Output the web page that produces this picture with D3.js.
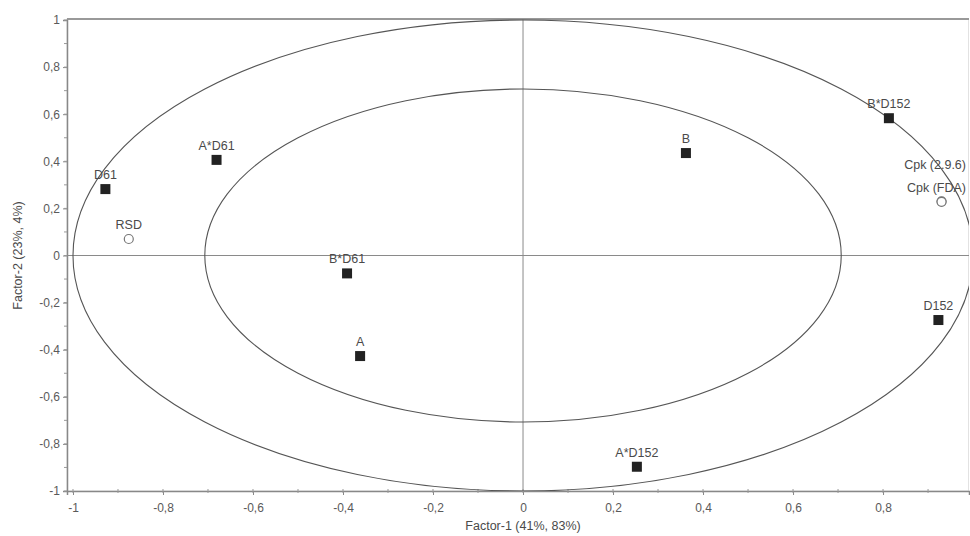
<!DOCTYPE html>
<html>
<head>
<meta charset="utf-8">
<script src="https://cdn.jsdelivr.net/npm/d3@7"></script>
<style>
  body { margin: 0; background: #fff; }
  text { font-family: "Liberation Sans", Arial, sans-serif; }
</style>
</head>
<body>
<div class="loadings-plot"></div>
<script>
// loadings
const names   = ["D61", "A*D61", "RSD", "B*D61", "A", "A*D152", "B", "B*D152", "Cpk (2.9.6)", "Cpk (FDA)", "D152"];
const factor1 = [-0.928, -0.681, -0.876, -0.391, -0.362, 0.253, 0.362, 0.813, 0.930, 0.930, 0.923];
const factor2 = [0.282, 0.406, 0.070, -0.076, -0.427, -0.897, 0.435, 0.583, 0.230, 0.228, -0.274];
const kind    = ["x", "x", "y", "x", "x", "x", "x", "x", "y", "y", "x"];   // x = predictor, y = response
const majorTicks = [-1, -0.8, -0.6, -0.4, -0.2, 0, 0.2, 0.4, 0.6, 0.8];
const yMajorTicks = [-1, -0.8, -0.6, -0.4, -0.2, 0, 0.2, 0.4, 0.6, 0.8, 1];
const ellipseRadii = [1, Math.sqrt(0.5)];

const data = names.map((n, i) => ({name: n, f1: factor1[i], f2: factor2[i], kind: kind[i]}));

const W = 970, H = 536;
const margin = {top: 19, right: 1, bottom: 45, left: 67};

const svg = d3.select(".loadings-plot")
    .append("svg")
    .attr("width", W)
    .attr("height", H);

const xScale = d3.scaleLinear()
    .domain([-1.0133, 0.991])
    .range([margin.left, W - margin.right]);
const yScale = d3.scaleLinear()
    .domain([-1, 1])
    .range([H - margin.bottom, 20]);

// plain hyphen and decimal comma, like the original
const comma = d => String(Math.round(d * 10) / 10).replace(".", ",");

// frame
svg.append("rect")
    .attr("x", margin.left)
    .attr("y", margin.top)
    .attr("width", W - margin.right - margin.left - 0.5)
    .attr("height", H - margin.bottom - margin.top)
    .attr("fill", "none")
    .attr("stroke", "#e2e2e2");
svg.append("line")
    .attr("x1", margin.left).attr("x2", W - margin.right)
    .attr("y1", margin.top).attr("y2", margin.top)
    .attr("stroke", "#999").attr("stroke-width", 2);

// minor ticks
const minor = d3.range(-10, 10).map(i => i / 10);
const yMinor = d3.range(-10, 11).map(i => i / 10);

const xAxis = d3.axisBottom(xScale).tickValues(majorTicks).tickFormat(comma).tickSize(4).tickPadding(8);
const yAxis = d3.axisLeft(yScale).tickValues(yMajorTicks).tickFormat(comma).tickSize(4).tickPadding(3);

svg.append("g")
    .attr("class", "axis x-axis")
    .attr("transform", `translate(0, ${H - margin.bottom})`)
    .call(xAxis)
    .call(g => g.selectAll(".minor").data(minor).enter().append("line")
        .attr("x1", d => xScale(d)).attr("x2", d => xScale(d))
        .attr("y1", -2).attr("y2", 2).attr("stroke", "#999"));
svg.append("g")
    .attr("class", "axis y-axis")
    .attr("transform", `translate(${margin.left}, 0)`)
    .call(yAxis)
    .call(g => g.selectAll(".minor").data(yMinor).enter().append("line")
        .attr("y1", d => yScale(d)).attr("y2", d => yScale(d))
        .attr("x1", -3).attr("x2", 0).attr("stroke", "#999"));

svg.selectAll(".axis .domain").attr("stroke", "#888").attr("stroke-width", 1.5);
svg.selectAll(".axis .tick line").attr("stroke", "#888");
svg.selectAll(".axis text")
    .attr("fill", "#5a5a5a")
    .attr("font-size", 12)
    .style("font-family", "'Liberation Sans', Arial, sans-serif");

// clip for ellipses
svg.append("clipPath").attr("id", "plot-clip")
    .append("rect")
    .attr("x", margin.left).attr("y", margin.top)
    .attr("width", W - margin.right - margin.left)
    .attr("height", H - margin.bottom - margin.top);

const plot = svg.append("g").attr("clip-path", "url(#plot-clip)");

// zero lines
plot.append("line")
    .attr("x1", xScale(0)).attr("x2", xScale(0))
    .attr("y1", margin.top).attr("y2", H - margin.bottom)
    .attr("stroke", "#8a8a8a");
plot.append("line")
    .attr("x1", margin.left).attr("x2", W - margin.right)
    .attr("y1", yScale(0)).attr("y2", yScale(0))
    .attr("stroke", "#8a8a8a");

// correlation ellipses
plot.selectAll(".ellipse")
    .data(ellipseRadii)
    .enter()
    .append("ellipse")
    .attr("cx", xScale(0))
    .attr("cy", yScale(0))
    .attr("rx", r => xScale(r) - xScale(0))
    .attr("ry", r => yScale(0) - yScale(r))
    .attr("fill", "none")
    .attr("stroke", "#555")
    .attr("stroke-width", 1.1);

// markers
svg.selectAll(".pt-x")
    .data(data.filter(d => d.kind === "x"))
    .enter()
    .append("rect")
    .attr("x", d => xScale(d.f1) - 5)
    .attr("y", d => yScale(d.f2) - 5)
    .attr("width", 10)
    .attr("height", 10)
    .attr("fill", "#222");

svg.selectAll(".pt-y")
    .data(data.filter(d => d.kind === "y"))
    .enter()
    .append("circle")
    .attr("cx", d => xScale(d.f1))
    .attr("cy", d => yScale(d.f2))
    .attr("r", 4.5)
    .attr("fill", "white")
    .attr("stroke", "#777")
    .attr("stroke-width", 1.2);

// labels, stacked ones get an extra lift
const lift = {"Cpk (2.9.6)": 22};
const rightLimit = W - margin.right - 3;

svg.selectAll(".label")
    .data(data)
    .enter()
    .append("text")
    .attr("x", d => xScale(d.f1))
    .attr("y", d => yScale(d.f2) - 10 - (lift[d.name] || 0))
    .attr("text-anchor", "middle")
    .attr("font-size", 12.5)
    .attr("fill", "#4a4a4a")
    .text(d => d.name)
    .each(clamp);

function clamp(d) {
    const t = d3.select(this);
    const w = this.getComputedTextLength();
    const cx = xScale(d.f1);
    if (cx + w / 2 > rightLimit) {
        t.attr("text-anchor", "end").attr("x", rightLimit);
    }
}

// axis titles
svg.append("text")
    .attr("x", xScale(0))
    .attr("y", 530)
    .attr("text-anchor", "middle")
    .attr("font-size", 12.5)
    .attr("fill", "#4a4a4a")
    .text("Factor-1 (41%, 83%)");

svg.append("text")
    .attr("transform", `translate(22, ${yScale(0)}) rotate(-90)`)
    .attr("text-anchor", "middle")
    .attr("font-size", 12.5)
    .attr("fill", "#4a4a4a")
    .text("Factor-2 (23%, 4%)");
</script>
</body>
</html>
